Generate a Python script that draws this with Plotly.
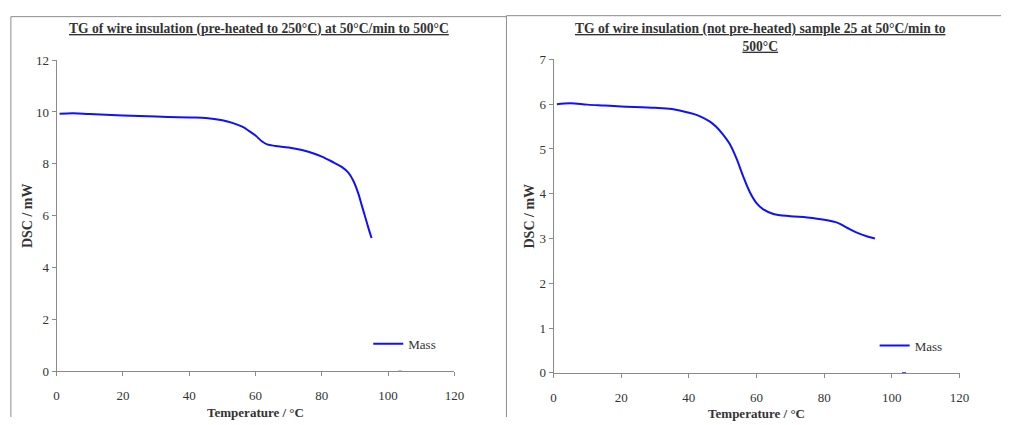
import plotly.graph_objects as go

# ---- data ----
temp_left = [0.9, 5, 10, 20, 30, 40, 45, 50, 53, 56, 58, 60, 62, 63.5, 66, 70, 74, 78, 80, 83, 86, 88, 89.5, 91, 92, 93, 94, 95]
mass_left = [9.93, 9.95, 9.92, 9.86, 9.82, 9.79, 9.77, 9.68, 9.58, 9.43, 9.27, 9.09, 8.86, 8.75, 8.69, 8.63, 8.53, 8.38, 8.28, 8.09, 7.88, 7.66, 7.35, 6.86, 6.42, 5.99, 5.55, 5.14]

temp_right = [1, 5, 10, 15, 20, 30, 35, 40, 43, 46, 48, 50, 52, 54, 56, 58, 60, 62, 65, 70, 75, 80, 84, 87, 90, 93, 95]
mass_right = [6.00, 6.02, 5.99, 5.97, 5.95, 5.92, 5.89, 5.81, 5.74, 5.62, 5.50, 5.33, 5.12, 4.80, 4.40, 4.04, 3.79, 3.65, 3.55, 3.50, 3.47, 3.42, 3.35, 3.23, 3.12, 3.04, 3.00]

stray_x = [103.0, 104.2]
stray_y = [0, 0]

x_ticks = [0, 20, 40, 60, 80, 100, 120]
y_ticks_left = [0, 2, 4, 6, 8, 10, 12]
y_ticks_right = [0, 1, 2, 3, 4, 5, 6, 7]

title_left = "TG of wire insulation (pre-heated to 250°C) at 50°C/min to 500°C"
title_right = "TG of wire insulation (not pre-heated) sample 25 at 50°C/min to<br>500°C"
x_title = "Temperature / °C"
y_title = "DSC / mW"

W, H = 1011, 425
SERIF = "Liberation Serif, Times New Roman, serif"
AX_COL = "#8a8a8a"
TXT_COL = "#333333"
BLUE = "#1010ff"

fig = go.Figure()
fig.add_trace(go.Scatter(x=temp_left, y=mass_left, mode="lines", name="Mass",
                         line=dict(color=BLUE, width=2, shape="spline"),
                         xaxis="x", yaxis="y", legend="legend"))
fig.add_trace(go.Scatter(x=stray_x, y=stray_y, mode="lines", showlegend=False,
                         line=dict(color=BLUE, width=1.2), xaxis="x", yaxis="y"))
fig.add_trace(go.Scatter(x=temp_right, y=mass_right, mode="lines", name="Mass",
                         line=dict(color=BLUE, width=2, shape="spline"),
                         xaxis="x2", yaxis="y2", legend="legend2"))
fig.add_trace(go.Scatter(x=stray_x, y=stray_y, mode="lines", showlegend=False,
                         line=dict(color=BLUE, width=1.2), xaxis="x2", yaxis="y2"))

def px_x(p):
    return p / W

def px_y(p):
    return (H - p) / H

axis_common = dict(showline=True, linecolor=AX_COL, linewidth=1, ticks="outside",
                   tickcolor=AX_COL, ticklen=4, showgrid=False, zeroline=False,
                   tickfont=dict(family=SERIF, size=13, color=TXT_COL))

xtitle_font = dict(family=SERIF, size=13, color=TXT_COL)
ytitle_font = dict(family=SERIF, size=14, color=TXT_COL)

fig.update_layout(
    width=W, height=H, margin=dict(l=0, r=0, t=0, b=0),
    paper_bgcolor="white", plot_bgcolor="white",
    xaxis=dict(domain=[px_x(54.3), px_x(457.3)], range=[0, 120], tickvals=x_ticks,
               anchor="y", ticklabelstandoff=8,
               title=dict(text="<b>" + x_title + "</b>", font=xtitle_font, standoff=5),
               **axis_common),
    yaxis=dict(domain=[px_y(377.7), px_y(55)], range=[0, 12], tickvals=y_ticks_left,
               anchor="x", **axis_common),
    xaxis2=dict(domain=[px_x(557.7), px_x(969)], range=[0, 120], tickvals=x_ticks,
                anchor="y2", ticklabelstandoff=8,
                title=dict(text="<b>" + x_title + "</b>", font=xtitle_font, standoff=5),
                **axis_common),
    yaxis2=dict(domain=[px_y(379.3), px_y(54.3)], range=[0, 7], tickvals=y_ticks_right,
                anchor="x2", **axis_common),
    legend=dict(x=px_x(370), y=px_y(349), xanchor="left", yanchor="middle",
                bgcolor="rgba(0,0,0,0)", itemwidth=30,
                font=dict(family=SERIF, size=13, color=TXT_COL)),
    legend2=dict(x=px_x(883), y=px_y(351), xanchor="left", yanchor="middle",
                 bgcolor="rgba(0,0,0,0)", itemwidth=30,
                 font=dict(family=SERIF, size=13, color=TXT_COL)),
    showlegend=True,
)

# y-axis titles
fig.add_annotation(text="<b>" + y_title + "</b>", xref="paper", yref="paper",
                   x=px_x(25), y=px_y(216), xanchor="center", yanchor="middle",
                   textangle=-90, showarrow=False, font=ytitle_font)
fig.add_annotation(text="<b>" + y_title + "</b>", xref="paper", yref="paper",
                   x=px_x(533), y=px_y(217), xanchor="center", yanchor="middle",
                   textangle=-90, showarrow=False, font=ytitle_font)

# titles
fig.add_annotation(text="<b>" + title_left + "</b>", xref="paper", yref="paper",
                   x=px_x(259.7), y=px_y(23), xanchor="center", yanchor="middle",
                   showarrow=False,
                   font=dict(family=SERIF, size=13.6, color=TXT_COL, lineposition="under"))
fig.add_annotation(text="<b>" + title_right + "</b>", xref="paper", yref="paper",
                   x=px_x(767), y=px_y(32), xanchor="center", yanchor="middle",
                   showarrow=False,
                   font=dict(family=SERIF, size=13.6, color=TXT_COL, lineposition="under"))

# panel frames
frame = dict(color="#8c8c8c", width=1)
fig.add_shape(type="line", xref="paper", yref="paper", x0=px_x(8), x1=px_x(8), y0=0, y1=px_y(10), line=frame)
fig.add_shape(type="line", xref="paper", yref="paper", x0=px_x(8), x1=px_x(510), y0=px_y(10), y1=px_y(10), line=frame)
fig.add_shape(type="line", xref="paper", yref="paper", x0=px_x(510), x1=px_x(510), y0=0, y1=px_y(9), line=frame)
fig.add_shape(type="line", xref="paper", yref="paper", x0=px_x(510), x1=1, y0=px_y(9), y1=px_y(9), line=frame)

fig.write_html("out.html")
